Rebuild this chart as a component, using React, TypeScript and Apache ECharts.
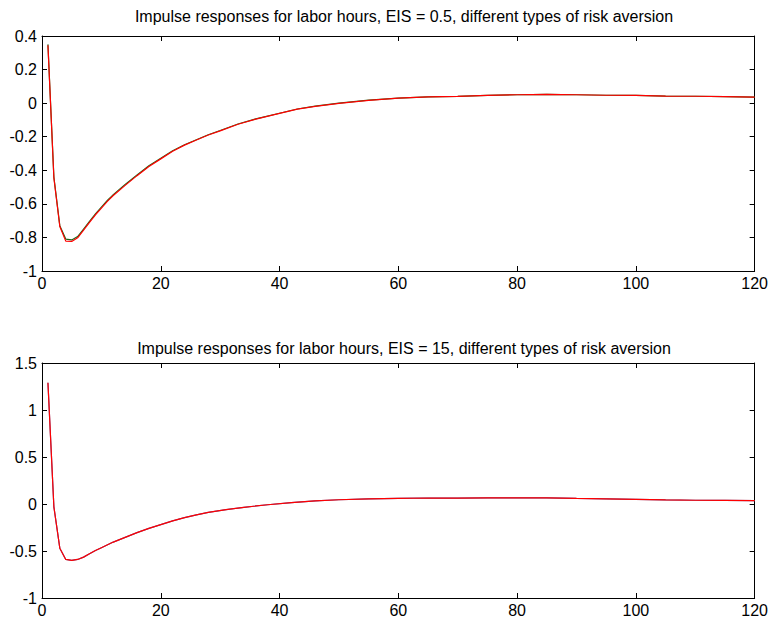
import React, { useEffect, useRef } from "react";
import * as echarts from "echarts";

const titles = [
  "Impulse responses for labor hours, EIS = 0.5, different types of risk aversion",
  "Impulse responses for labor hours, EIS = 15, different types of risk aversion",
];

const xTicks = { min: 0, max: 120, interval: 20 };

// Top panel (EIS = 0.5)
const topX = [1, 2, 3, 4, 5, 6, 7, 8, 9, 10, 11, 12, 14, 16, 18, 20, 22, 24, 26, 28, 30, 33, 36, 40, 43, 46, 50, 55, 60, 65, 70, 75, 80, 85, 90, 95, 100, 105, 110, 115, 120];
const topGreen = [0.35, -0.44, -0.73, -0.81, -0.815, -0.795, -0.75, -0.705, -0.66, -0.62, -0.58, -0.545, -0.485, -0.428, -0.373, -0.328, -0.284, -0.248, -0.218, -0.188, -0.163, -0.124, -0.094, -0.06, -0.035, -0.018, 0.0, 0.018, 0.03, 0.037, 0.04, 0.046, 0.05, 0.052, 0.05, 0.047, 0.046, 0.042, 0.041, 0.039, 0.036];
const topRed = [0.345, -0.445, -0.735, -0.822, -0.824, -0.802, -0.756, -0.71, -0.665, -0.625, -0.585, -0.55, -0.49, -0.432, -0.377, -0.332, -0.287, -0.25, -0.22, -0.19, -0.165, -0.126, -0.095, -0.061, -0.036, -0.019, -0.001, 0.017, 0.03, 0.037, 0.04, 0.046, 0.05, 0.052, 0.05, 0.047, 0.046, 0.042, 0.041, 0.039, 0.036];

// Bottom panel (EIS = 15)
const botX = [1, 2, 3, 4, 5, 6, 7, 8, 9, 10, 12, 14, 16, 18, 20, 22, 24, 26, 28, 31, 34, 38, 42, 46, 50, 55, 60, 65, 70, 75, 80, 85, 90, 95, 100, 105, 110, 115, 120];
const botBlue = [1.29, -0.03, -0.47, -0.59, -0.6, -0.59, -0.565, -0.53, -0.495, -0.465, -0.405, -0.355, -0.305, -0.26, -0.22, -0.18, -0.145, -0.115, -0.09, -0.06, -0.035, -0.008, 0.015, 0.033, 0.045, 0.055, 0.06, 0.064, 0.063, 0.066, 0.066, 0.066, 0.06, 0.055, 0.05, 0.043, 0.04, 0.038, 0.035];
const botRed = [1.29, -0.03, -0.47, -0.59, -0.6, -0.59, -0.565, -0.53, -0.495, -0.465, -0.405, -0.355, -0.305, -0.26, -0.22, -0.18, -0.145, -0.115, -0.09, -0.06, -0.035, -0.008, 0.015, 0.033, 0.045, 0.055, 0.06, 0.064, 0.063, 0.066, 0.066, 0.066, 0.06, 0.055, 0.05, 0.043, 0.04, 0.038, 0.035];

const topY = { min: -1, max: 0.4, interval: 0.2 };
const botY = { min: -1, max: 1.5, interval: 0.5 };

const FONT = "'Liberation Sans', Arial, Helvetica, sans-serif";

function pairs(xs: number[], ys: number[]) {
  return xs.map((x, i) => [x, ys[i]]);
}

export default function App() {
  const ref = useRef<HTMLDivElement>(null);
  useEffect(() => {
    if (!ref.current) return;
    const chart = echarts.init(ref.current, undefined, { renderer: "svg" });
    const axisLine = { show: true, onZero: false, lineStyle: { color: "#000", width: 1 } };
    const tick = { show: true, inside: true, length: 5, lineStyle: { color: "#000", width: 1 } };
    const label = { color: "#000", fontSize: 16, fontFamily: FONT };
    const mkX = (gridIndex: number, position: string, showLabel: boolean) => ({
      type: "value",
      gridIndex,
      position,
      ...xTicks,
      axisLine,
      axisTick: tick,
      splitLine: { show: false },
      axisLabel: { ...label, show: showLabel, margin: 4 },
    });
    const mkY = (gridIndex: number, position: string, showLabel: boolean, r: any) => ({
      type: "value",
      gridIndex,
      position,
      ...r,
      axisLine,
      axisTick: tick,
      splitLine: { show: false },
      axisLabel: { ...label, show: showLabel, margin: 5 },
    });
    const line = (name: string, color: string, data: number[][], idx: number) => ({
      name,
      type: "line",
      xAxisIndex: idx,
      yAxisIndex: idx,
      data,
      showSymbol: false,
      symbol: "none",
      lineStyle: { color, width: 1.2 },
      z: 2,
    });
    const titleStyle = { fontSize: 16, fontWeight: "normal", color: "#000", fontFamily: FONT };
    chart.setOption({
      animation: false,
      backgroundColor: "#fff",
      title: [
        { text: titles[0], left: 399, top: 3, textAlign: "center", textStyle: titleStyle },
        { text: titles[1], left: 399, top: 335, textAlign: "center", textStyle: titleStyle },
      ],
      grid: [
        { left: 42, right: 15, top: 36, height: 235, containLabel: false },
        { left: 42, right: 15, top: 363, height: 235, containLabel: false },
      ],
      xAxis: [mkX(0, "bottom", true), mkX(1, "bottom", true), mkX(0, "top", false), mkX(1, "top", false)],
      yAxis: [mkY(0, "left", true, topY), mkY(1, "left", true, botY), mkY(0, "right", false, topY), mkY(1, "right", false, botY)],
      series: [
        line("green", "#1a6a1a", pairs(topX, topGreen), 0),
        line("red", "#ff0000", pairs(topX, topRed), 0),
        line("blue", "#5050a0", pairs(botX, botBlue), 1),
        line("red", "#ff0000", pairs(botX, botRed), 1),
      ],
    });
    return () => chart.dispose();
  }, []);
  return <div ref={ref} style={{ position: "fixed", left: 0, top: 0, width: 771, height: 620 }} />;
}
